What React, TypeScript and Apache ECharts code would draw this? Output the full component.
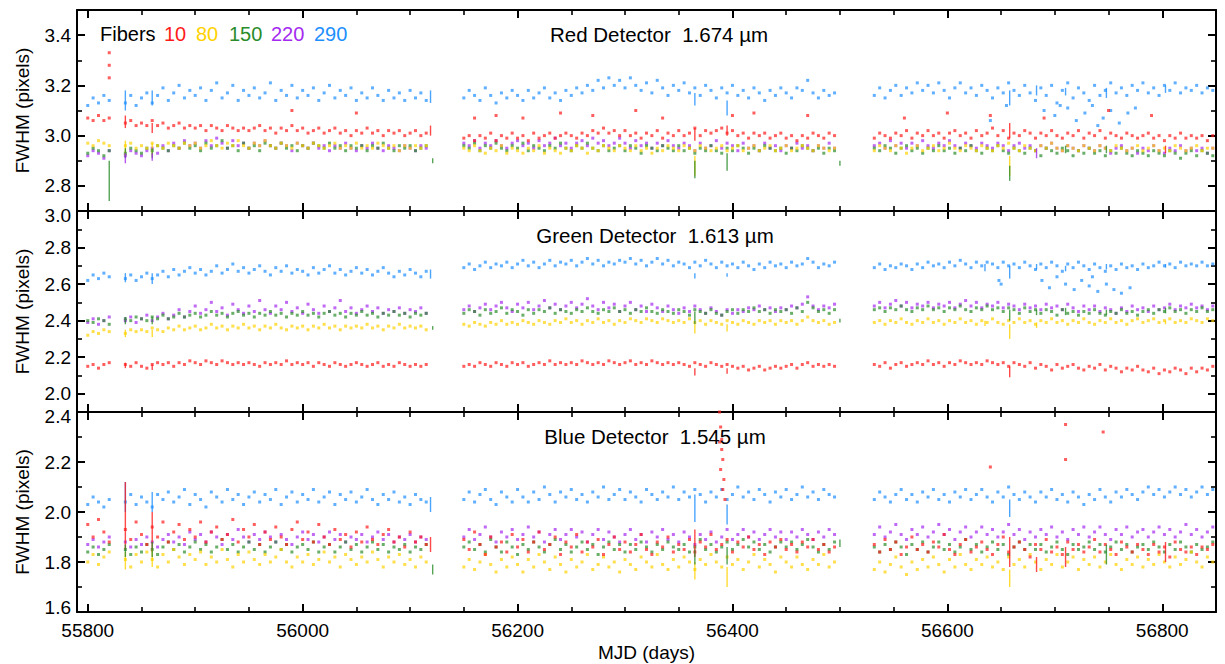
import React, { useEffect, useRef } from "react";
import * as echarts from "echarts";

// ---------- axes ----------
const X_MIN = 55790;
const X_MAX = 56850;
const X_LABELS = [55800, 56000, 56200, 56400, 56600, 56800];
const X_MINOR = [55850, 55900, 55950, 56050, 56100, 56150, 56250, 56300, 56350, 56450, 56500, 56550, 56650, 56700, 56750, 56850];

const Y_MIN = [2.7, 1.9, 1.6];
const Y_MAX = [3.5, 3.0, 2.4];
const Y_MAJOR_TOP = [2.8, 3.0, 3.2, 3.4];
const Y_MINOR_TOP = [2.9, 3.1, 3.3];
const Y_MAJOR_MID = [2.0, 2.2, 2.4, 2.6, 2.8, 3.0];
const Y_MINOR_MID = [2.1, 2.3, 2.5, 2.7, 2.9];
const Y_MAJOR_BOT = [1.6, 1.8, 2.0, 2.2, 2.4];
const Y_MINOR_BOT = [1.7, 1.9, 2.1, 2.3];

const PANEL_TITLES = ["Red Detector  1.674 \u00b5m", "Green Detector  1.613 \u00b5m", "Blue Detector  1.545 \u00b5m"];
const FIBERS = ["10", "80", "150", "220", "290"];
const FIBER_COLORS = ["#ff1a1a", "#ffd200", "#2a8c2a", "#a52af0", "#1e8fff"];

// observing seasons: first MJD of each, one value every 5 days
const SEG_START = [55800, 56150, 56532];
const SEG_STEP = 5;

// ---------- Red detector (top) ----------
const TOP_F290 = [
  [3.12, 3.15, 3.13, 3.16, 3.14, null, null, 3.13, 3.16, 3.12,
   3.15, 3.17, 3.13, 3.16, 3.19, 3.14, 3.17, 3.20, 3.15, 3.18,
   3.16, 3.19, 3.14, 3.18, 3.21, 3.15, 3.17, 3.20, 3.14, 3.18,
   3.16, 3.19, 3.15, 3.17, 3.21, 3.14, 3.18, 3.16, 3.20, 3.15,
   3.18, 3.16, 3.19, 3.14, 3.17, 3.20, 3.15, 3.18, 3.16, 3.19,
   3.14, 3.17, 3.15, 3.19, 3.16, 3.14, 3.18, 3.15, 3.17, 3.14,
   3.18, 3.15, 3.17, 3.14],
  [3.15, 3.18, 3.16, 3.14, 3.19, 3.16, 3.13, 3.17, 3.15, 3.18,
   3.16, 3.14, 3.18, 3.15, 3.17, 3.19, 3.15, 3.17, 3.14, 3.18,
   3.16, 3.19, 3.17, 3.20, 3.18, 3.22, 3.19, 3.23, 3.20, 3.22,
   3.19, 3.23, 3.20, 3.18, 3.21, 3.17, 3.22, 3.19, 3.16, 3.20,
   3.18, 3.21, 3.17, 3.19, 3.16, 3.20, 3.18, 3.15, 3.19, 3.17,
   3.20, 3.16, 3.18, 3.15, 3.19, 3.17, 3.14, 3.18, 3.16, 3.19,
   3.17, 3.15, 3.19, 3.18, 3.22, 3.17, 3.15, 3.18, 3.16, 3.17],
  [3.16, 3.19, 3.15, 3.18, 3.20, 3.16, 3.19, 3.17, 3.21, 3.18,
   3.20, 3.17, 3.21, 3.18, 3.15, 3.19, 3.21, 3.17, 3.19, 3.16,
   3.20, 3.18, 3.15, 3.19, 3.17, 3.21, 3.18, 3.16, 3.20, 3.17,
   3.14, 3.19, 3.16, 3.20, 3.13, 3.18, 3.21, 3.15, 3.19, 3.17,
   3.14, 3.20, 3.16, 3.18, 3.21, 3.17, 3.19, 3.16, 3.20, 3.18,
   3.21, 3.17, 3.19, 3.16, 3.20, 3.18, 3.21, 3.17, 3.19, 3.18,
   3.20, 3.17, 3.19, 3.18],
];
const TOP_F10 = [
  [3.07, 3.06, 3.08, 3.06, 3.07, null, null, 3.05, 3.06, 3.04,
   3.05, 3.04, 3.06, 3.04, 3.05, 3.03, 3.04, 3.05, 3.03, 3.04,
   3.03, 3.04, 3.02, 3.04, 3.03, 3.02, 3.04, 3.03, 3.02, 3.03,
   3.02, 3.03, 3.04, 3.02, 3.03, 3.01, 3.03, 3.02, 3.04, 3.02,
   3.03, 3.01, 3.02, 3.03, 3.01, 3.02, 3.03, 3.01, 3.02, 3.00,
   3.02, 3.01, 3.03, 3.01, 3.02, 3.00, 3.02, 3.01, 3.02, 3.00,
   3.01, 3.02, 3.00, 3.01],
  [2.99, 3.00, 2.98, 3.00, 2.99, 3.01, 2.98, 3.00, 2.99, 3.01,
   2.99, 3.00, 2.98, 3.01, 2.99, 3.00, 3.01, 2.99, 3.00, 3.01,
   3.00, 2.99, 3.01, 3.00, 3.02, 3.01, 3.03, 3.01, 3.02, 3.00,
   3.02, 3.00, 3.01, 2.99, 3.01, 3.00, 3.02, 2.99, 3.01, 3.00,
   3.02, 3.00, 3.01, 3.03, 3.00, 3.02, 3.01, 3.02, 3.03, 3.01,
   3.02, 3.00, 3.01, 2.99, 3.01, 3.00, 3.01, 2.99, 3.00, 3.01,
   2.99, 3.00, 2.98, 3.00, 2.99, 3.01, 3.00, 2.99, 3.01, 3.00],
  [2.99, 3.01, 3.00, 2.99, 3.01, 3.00, 3.02, 2.99, 3.01, 3.00,
   3.02, 3.00, 3.01, 2.99, 3.01, 3.02, 3.00, 3.01, 2.99, 3.02,
   3.00, 3.01, 3.03, 3.00, 3.02, 2.99, 3.01, 3.00, 3.02, 3.01,
   2.99, 3.01, 3.00, 3.02, 3.00, 2.99, 3.01, 3.00, 3.02, 2.99,
   3.01, 3.00, 3.02, 2.99, 3.01, 3.00, 2.99, 3.01, 3.00, 2.99,
   3.00, 3.01, 2.99, 3.00, 2.98, 3.00, 2.99, 3.01, 2.99, 3.00,
   2.99, 3.00, 2.98, 3.00],
];
const TOP_F80 = [
  [2.97, 2.96, 2.98, 2.97, 2.96, null, null, 2.96, 2.97, 2.95,
   2.96, 2.95, 2.97, 2.96, 2.95, 2.97, 2.96, 2.95, 2.97, 2.96,
   2.97, 2.95, 2.96, 2.98, 2.96, 2.95, 2.97, 2.96, 2.98, 2.96,
   2.95, 2.97, 2.96, 2.98, 2.96, 2.95, 2.97, 2.96, 2.95, 2.97,
   2.96, 2.95, 2.97, 2.96, 2.95, 2.96, 2.97, 2.95, 2.96, 2.95,
   2.97, 2.95, 2.96, 2.95, 2.97, 2.96, 2.95, 2.96, 2.94, 2.96,
   2.95, 2.96, 2.95, 2.96],
  [2.95, 2.94, 2.96, 2.94, 2.93, 2.95, 2.94, 2.96, 2.93, 2.95,
   2.94, 2.93, 2.95, 2.94, 2.96, 2.93, 2.95, 2.94, 2.93, 2.95,
   2.94, 2.96, 2.95, 2.93, 2.95, 2.94, 2.96, 2.95, 2.94, 2.96,
   2.95, 2.94, 2.96, 2.94, 2.95, 2.93, 2.95, 2.94, 2.96, 2.95,
   2.94, 2.96, 2.95, 2.94, 2.96, 2.95, 2.94, 2.95, 2.96, 2.94,
   2.95, 2.96, 2.94, 2.95, 2.96, 2.94, 2.95, 2.96, 2.94, 2.95,
   2.96, 2.94, 2.95, 2.96, 2.95, 2.94, 2.96, 2.95, 2.94, 2.95],
  [2.94, 2.96, 2.95, 2.94, 2.96, 2.95, 2.93, 2.95, 2.96, 2.94,
   2.95, 2.96, 2.94, 2.95, 2.97, 2.95, 2.94, 2.96, 2.95, 2.94,
   2.96, 2.95, 2.94, 2.96, 2.95, 2.97, 2.95, 2.94, 2.96, 2.95,
   2.94, 2.96, 2.95, 2.97, 2.95, 2.94, 2.96, 2.95, 2.94, 2.96,
   2.95, 2.94, 2.96, 2.95, 2.94, 2.96, 2.95, 2.94, 2.95, 2.96,
   2.94, 2.95, 2.96, 2.94, 2.95, 2.94, 2.96, 2.95, 2.94, 2.95,
   2.96, 2.94, 2.95, 2.95],
];
const TOP_F150 = [
  [2.93, 2.95, 2.94, 2.92, 2.94, null, null, 2.93, 2.95, 2.94,
   2.93, 2.95, 2.94, 2.96, 2.95, 2.94, 2.96, 2.95, 2.97, 2.95,
   2.96, 2.94, 2.97, 2.95, 2.96, 2.98, 2.95, 2.96, 2.94, 2.97,
   2.95, 2.96, 2.94, 2.97, 2.96, 2.95, 2.97, 2.95, 2.96, 2.94,
   2.96, 2.95, 2.97, 2.96, 2.95, 2.97, 2.95, 2.96, 2.94, 2.96,
   2.95, 2.96, 2.94, 2.96, 2.95, 2.97, 2.95, 2.94, 2.96, 2.95,
   2.96, 2.94, 2.95, 2.96],
  [2.96, 2.95, 2.97, 2.94, 2.96, 2.95, 2.97, 2.95, 2.94, 2.96,
   2.95, 2.97, 2.94, 2.96, 2.95, 2.94, 2.96, 2.95, 2.97, 2.95,
   2.94, 2.96, 2.95, 2.97, 2.95, 2.94, 2.96, 2.94, 2.95, 2.96,
   2.94, 2.96, 2.95, 2.93, 2.96, 2.95, 2.94, 2.96, 2.95, 2.94,
   2.96, 2.94, 2.95, 2.93, 2.95, 2.94, 2.96, 2.94, 2.93, 2.95,
   2.94, 2.96, 2.95, 2.93, 2.95, 2.94, 2.96, 2.95, 2.94, 2.95,
   2.93, 2.95, 2.94, 2.96, 2.95, 2.94, 2.95, 2.93, 2.95, 2.94],
  [2.95, 2.94, 2.96, 2.95, 2.93, 2.95, 2.96, 2.94, 2.95, 2.93,
   2.95, 2.94, 2.96, 2.94, 2.95, 2.93, 2.95, 2.94, 2.96, 2.94,
   2.93, 2.95, 2.94, 2.96, 2.94, 2.93, 2.95, 2.94, 2.93, 2.95,
   2.94, 2.92, 2.95, 2.94, 2.93, 2.95, 2.94, 2.92, 2.94, 2.93,
   2.95, 2.93, 2.94, 2.92, 2.94, 2.93, 2.95, 2.93, 2.92, 2.94,
   2.93, 2.92, 2.94, 2.93, 2.92, 2.94, 2.93, 2.91, 2.93, 2.94,
   2.92, 2.94, 2.93, 2.92],
];
const TOP_F220 = [
  [2.92, 2.94, 2.93, 2.91, 2.94, null, null, 2.92, 2.94, 2.93,
   2.92, 2.94, 2.95, 2.93, 2.96, 2.94, 2.97, 2.95, 2.98, 2.96,
   2.97, 2.95, 2.98, 2.96, 2.99, 2.97, 2.95, 2.98, 2.96, 2.97,
   2.95, 2.97, 2.96, 2.98, 2.96, 2.95, 2.97, 2.96, 2.94, 2.97,
   2.96, 2.95, 2.97, 2.95, 2.96, 2.94, 2.96, 2.95, 2.97, 2.95,
   2.94, 2.96, 2.95, 2.97, 2.95, 2.94, 2.96, 2.95, 2.94, 2.96,
   2.95, 2.94, 2.96, 2.95],
  [2.97, 2.96, 2.98, 2.95, 2.97, 2.96, 2.98, 2.96, 2.95, 2.97,
   2.98, 2.96, 2.97, 2.95, 2.98, 2.96, 2.97, 2.99, 2.96, 2.97,
   2.95, 2.97, 2.98, 2.96, 2.99, 2.97, 2.98, 2.96, 2.97, 2.99,
   2.97, 2.95, 2.98, 2.96, 2.97, 2.95, 2.97, 2.96, 2.98, 2.96,
   2.95, 2.97, 2.96, 2.94, 2.97, 2.95, 2.96, 2.98, 2.95, 2.97,
   2.96, 2.94, 2.97, 2.95, 2.96, 2.94, 2.97, 2.95, 2.96, 2.94,
   2.96, 2.95, 2.97, 2.95, 2.96, 2.94, 2.96, 2.95, 2.97, 2.95],
  [2.96, 2.97, 2.95, 2.98, 2.96, 2.97, 2.95, 2.97, 2.96, 2.98,
   2.96, 2.95, 2.97, 2.96, 2.98, 2.96, 2.95, 2.97, 2.96, 2.95,
   2.97, 2.96, 2.95, 2.97, 2.96, 2.94, 2.96, 2.97, 2.95, 2.96,
   2.94, 2.96, 2.95, 2.97, 2.95, 2.94, 2.96, 2.95, 2.94, 2.96,
   2.95, 2.94, 2.96, 2.95, 2.93, 2.95, 2.96, 2.94, 2.95, 2.93,
   2.95, 2.94, 2.96, 2.94, 2.93, 2.95, 2.94, 2.96, 2.94, 2.95,
   2.94, 2.95, 2.93, 2.95],
];
const TOP_F10_OUT = [[55820, 3.33], [55820, 3.28], [55820, 3.23], [55990, 3.10], [56050, 3.09], [56160, 3.07], [56180, 3.08], [56205, 3.07], [56240, 3.09], [56270, 3.08], [56310, 3.10], [56335, 3.07], [56400, 3.08], [56420, 3.09], [56470, 3.08], [56560, 3.07], [56600, 3.09], [56640, 3.08], [56690, 3.07], [56750, 3.10], [56790, 3.08]];
const TOP_F290_OUT = [[56640, 3.06], [56655, 3.12], [56690, 3.10], [56700, 3.08], [56705, 3.12], [56712, 3.11], [56720, 3.06], [56728, 3.09], [56735, 3.12], [56740, 3.04], [56745, 3.07], [56752, 3.10], [56760, 3.05], [56768, 3.09], [56775, 3.11]];

// ---------- Green detector (middle) ----------
const MID_F290 = [
  [2.62, 2.65, 2.63, 2.66, 2.64, null, null, 2.63, 2.65, 2.62,
   2.64, 2.66, 2.63, 2.65, 2.67, 2.64, 2.68, 2.65, 2.67, 2.69,
   2.66, 2.68, 2.65, 2.67, 2.70, 2.66, 2.68, 2.71, 2.67, 2.69,
   2.66, 2.68, 2.70, 2.67, 2.65, 2.69, 2.67, 2.70, 2.66, 2.68,
   2.67, 2.65, 2.69, 2.66, 2.68, 2.70, 2.66, 2.68, 2.65, 2.67,
   2.69, 2.66, 2.68, 2.65, 2.67, 2.69, 2.66, 2.64, 2.67, 2.65,
   2.68, 2.66, 2.64, 2.67],
  [2.69, 2.71, 2.68, 2.70, 2.72, 2.69, 2.71, 2.70, 2.72, 2.69,
   2.71, 2.73, 2.70, 2.72, 2.69, 2.71, 2.73, 2.70, 2.72, 2.71,
   2.73, 2.70, 2.72, 2.74, 2.71, 2.73, 2.70, 2.72, 2.71, 2.73,
   2.72, 2.74, 2.71, 2.73, 2.70, 2.72, 2.74, 2.71, 2.73, 2.70,
   2.72, 2.71, 2.69, 2.72, 2.70, 2.73, 2.71, 2.69, 2.72, 2.70,
   2.71, 2.69, 2.72, 2.70, 2.68, 2.71, 2.69, 2.72, 2.70, 2.71,
   2.69, 2.72, 2.70, 2.71, 2.74, 2.72, 2.69, 2.71, 2.70, 2.72],
  [2.69, 2.71, 2.68, 2.70, 2.69, 2.71, 2.70, 2.68, 2.71, 2.69,
   2.72, 2.70, 2.71, 2.69, 2.72, 2.70, 2.73, 2.71, 2.69, 2.72,
   2.70, 2.72, 2.71, 2.69, 2.72, 2.70, 2.71, 2.69, 2.72, 2.70,
   2.68, 2.71, 2.69, 2.72, 2.70, 2.67, 2.71, 2.69, 2.72, 2.70,
   2.68, 2.71, 2.69, 2.67, 2.70, 2.68, 2.71, 2.69, 2.70, 2.68,
   2.71, 2.69, 2.70, 2.72, 2.70, 2.71, 2.69, 2.72, 2.70, 2.71,
   2.70, 2.72, 2.70, 2.71],
];
const MID_F220 = [
  [2.39, 2.41, 2.38, 2.40, 2.42, null, null, 2.40, 2.42, 2.39,
   2.41, 2.43, 2.40, 2.42, 2.44, 2.41, 2.43, 2.46, 2.42, 2.45,
   2.48, 2.44, 2.46, 2.50, 2.45, 2.47, 2.43, 2.49, 2.46, 2.44,
   2.48, 2.45, 2.51, 2.46, 2.44, 2.48, 2.46, 2.50, 2.45, 2.47,
   2.44, 2.49, 2.46, 2.44, 2.48, 2.45, 2.47, 2.51, 2.45, 2.47,
   2.44, 2.46, 2.48, 2.45, 2.47, 2.44, 2.46, 2.45, 2.47, 2.44,
   2.46, 2.45, 2.47, 2.44],
  [2.46, 2.48, 2.45, 2.47, 2.49, 2.46, 2.48, 2.50, 2.47, 2.45,
   2.49, 2.47, 2.50, 2.46, 2.48, 2.51, 2.47, 2.49, 2.46, 2.48,
   2.50, 2.47, 2.49, 2.52, 2.48, 2.46, 2.50, 2.47, 2.49, 2.45,
   2.48, 2.50, 2.46, 2.48, 2.45, 2.49, 2.47, 2.45, 2.48, 2.46,
   2.44, 2.47, 2.45, 2.48, 2.46, 2.44, 2.47, 2.45, 2.43, 2.46,
   2.44, 2.46, 2.45, 2.47, 2.46, 2.48, 2.46, 2.47, 2.45, 2.47,
   2.46, 2.48, 2.47, 2.49, 2.53, 2.48, 2.46, 2.48, 2.47, 2.49],
  [2.48, 2.50, 2.47, 2.49, 2.51, 2.48, 2.50, 2.47, 2.49, 2.48,
   2.50, 2.47, 2.49, 2.48, 2.50, 2.47, 2.49, 2.51, 2.48, 2.50,
   2.47, 2.49, 2.48, 2.50, 2.47, 2.49, 2.48, 2.46, 2.49, 2.47,
   2.48, 2.46, 2.49, 2.47, 2.48, 2.46, 2.49, 2.47, 2.45, 2.48,
   2.46, 2.48, 2.45, 2.47, 2.46, 2.44, 2.47, 2.45, 2.48, 2.46,
   2.47, 2.45, 2.48, 2.46, 2.47, 2.49, 2.46, 2.48, 2.47, 2.49,
   2.47, 2.48, 2.46, 2.48],
];
const MID_F150 = [
  [2.40, 2.39, 2.41, 2.40, 2.38, null, null, 2.41, 2.40, 2.42,
   2.41, 2.40, 2.42, 2.41, 2.43, 2.41, 2.42, 2.44, 2.42, 2.43,
   2.44, 2.42, 2.43, 2.45, 2.43, 2.44, 2.42, 2.44, 2.45, 2.43,
   2.44, 2.42, 2.44, 2.43, 2.45, 2.43, 2.44, 2.42, 2.44, 2.43,
   2.45, 2.43, 2.44, 2.42, 2.44, 2.45, 2.43, 2.44, 2.42, 2.44,
   2.43, 2.45, 2.43, 2.44, 2.42, 2.44, 2.43, 2.45, 2.43, 2.44,
   2.42, 2.44, 2.43, 2.44],
  [2.44, 2.46, 2.45, 2.43, 2.46, 2.44, 2.45, 2.47, 2.44, 2.46,
   2.45, 2.43, 2.46, 2.44, 2.46, 2.45, 2.47, 2.44, 2.46, 2.45,
   2.44, 2.46, 2.45, 2.47, 2.45, 2.44, 2.46, 2.45, 2.47, 2.45,
   2.46, 2.44, 2.46, 2.45, 2.47, 2.45, 2.44, 2.46, 2.45, 2.44,
   2.46, 2.45, 2.43, 2.46, 2.45, 2.44, 2.46, 2.44, 2.43, 2.45,
   2.46, 2.44, 2.46, 2.45, 2.47, 2.45, 2.46, 2.44, 2.46, 2.45,
   2.46, 2.44, 2.47, 2.45, 2.50, 2.47, 2.45, 2.46, 2.44, 2.46],
  [2.46, 2.47, 2.45, 2.47, 2.46, 2.48, 2.46, 2.45, 2.47, 2.46,
   2.48, 2.46, 2.47, 2.45, 2.47, 2.46, 2.48, 2.46, 2.45, 2.47,
   2.46, 2.48, 2.46, 2.47, 2.45, 2.47, 2.46, 2.44, 2.47, 2.45,
   2.46, 2.44, 2.46, 2.45, 2.43, 2.46, 2.44, 2.45, 2.43, 2.45,
   2.44, 2.46, 2.44, 2.43, 2.45, 2.44, 2.46, 2.44, 2.45, 2.43,
   2.45, 2.46, 2.44, 2.46, 2.45, 2.47, 2.45, 2.46, 2.44, 2.46,
   2.45, 2.47, 2.45, 2.46],
];
const MID_F80 = [
  [2.32, 2.34, 2.33, 2.35, 2.34, null, null, 2.33, 2.35, 2.34,
   2.35, 2.34, 2.36, 2.35, 2.34, 2.36, 2.35, 2.37, 2.35, 2.36,
   2.37, 2.35, 2.36, 2.38, 2.36, 2.37, 2.35, 2.37, 2.36, 2.38,
   2.36, 2.37, 2.35, 2.37, 2.36, 2.38, 2.36, 2.35, 2.37, 2.36,
   2.37, 2.35, 2.37, 2.36, 2.38, 2.36, 2.37, 2.35, 2.37, 2.36,
   2.37, 2.36, 2.38, 2.36, 2.37, 2.35, 2.37, 2.36, 2.38, 2.36,
   2.37, 2.36, 2.37, 2.35],
  [2.38, 2.37, 2.39, 2.38, 2.37, 2.39, 2.38, 2.40, 2.38, 2.39,
   2.38, 2.40, 2.39, 2.38, 2.40, 2.39, 2.38, 2.40, 2.39, 2.41,
   2.39, 2.40, 2.38, 2.40, 2.39, 2.41, 2.39, 2.40, 2.38, 2.40,
   2.39, 2.41, 2.40, 2.39, 2.41, 2.40, 2.39, 2.41, 2.40, 2.39,
   2.40, 2.39, 2.41, 2.39, 2.40, 2.38, 2.40, 2.39, 2.38, 2.40,
   2.39, 2.38, 2.40, 2.39, 2.38, 2.40, 2.39, 2.40, 2.38, 2.40,
   2.39, 2.40, 2.38, 2.40, 2.42, 2.40, 2.39, 2.40, 2.38, 2.39],
  [2.39, 2.40, 2.38, 2.40, 2.39, 2.41, 2.39, 2.38, 2.40, 2.39,
   2.41, 2.39, 2.40, 2.38, 2.40, 2.39, 2.41, 2.39, 2.40, 2.38,
   2.40, 2.39, 2.41, 2.39, 2.38, 2.40, 2.39, 2.41, 2.39, 2.40,
   2.38, 2.40, 2.39, 2.41, 2.39, 2.40, 2.38, 2.40, 2.39, 2.41,
   2.39, 2.38, 2.40, 2.39, 2.41, 2.39, 2.40, 2.38, 2.40, 2.41,
   2.39, 2.40, 2.41, 2.39, 2.40, 2.41, 2.39, 2.40, 2.39, 2.41,
   2.40, 2.39, 2.41, 2.40],
];
const MID_F10 = [
  [2.15, 2.16, 2.14, 2.16, 2.17, null, null, 2.16, 2.15, 2.17,
   2.15, 2.14, 2.16, 2.17, 2.16, 2.17, 2.15, 2.17, 2.16, 2.18,
   2.17, 2.16, 2.18, 2.17, 2.16, 2.18, 2.17, 2.16, 2.17, 2.16,
   2.17, 2.16, 2.15, 2.17, 2.16, 2.17, 2.16, 2.18, 2.16, 2.17,
   2.16, 2.17, 2.15, 2.17, 2.16, 2.15, 2.17, 2.16, 2.15, 2.16,
   2.17, 2.16, 2.15, 2.16, 2.17, 2.15, 2.16, 2.15, 2.17, 2.16,
   2.15, 2.16, 2.15, 2.16],
  [2.15, 2.16, 2.15, 2.17, 2.16, 2.15, 2.17, 2.16, 2.15, 2.17,
   2.16, 2.17, 2.15, 2.16, 2.17, 2.16, 2.18, 2.16, 2.17, 2.16,
   2.17, 2.16, 2.18, 2.17, 2.16, 2.17, 2.16, 2.18, 2.17, 2.16,
   2.17, 2.18, 2.16, 2.17, 2.16, 2.18, 2.17, 2.16, 2.17, 2.16,
   2.17, 2.16, 2.15, 2.17, 2.16, 2.15, 2.17, 2.16, 2.15, 2.16,
   2.15, 2.14, 2.15, 2.13, 2.14, 2.15, 2.13, 2.14, 2.15, 2.14,
   2.15, 2.16, 2.14, 2.16, 2.17, 2.15, 2.16, 2.15, 2.16, 2.15],
  [2.16, 2.15, 2.17, 2.14, 2.16, 2.17, 2.15, 2.16, 2.17, 2.16,
   2.18, 2.16, 2.17, 2.15, 2.17, 2.16, 2.18, 2.17, 2.16, 2.17,
   2.16, 2.18, 2.17, 2.16, 2.17, 2.15, 2.17, 2.16, 2.15, 2.17,
   2.14, 2.16, 2.15, 2.13, 2.16, 2.14, 2.15, 2.16, 2.14, 2.13,
   2.15, 2.14, 2.16, 2.13, 2.15, 2.14, 2.12, 2.14, 2.13, 2.15,
   2.13, 2.12, 2.14, 2.11, 2.13, 2.12, 2.14, 2.13, 2.11, 2.14,
   2.12, 2.14, 2.13, 2.15],
];
const MID_F290_OUT = [[56648, 2.62], [56650, 2.60], [56688, 2.62], [56695, 2.58], [56702, 2.64], [56710, 2.60], [56718, 2.57], [56725, 2.62], [56732, 2.59], [56735, 2.64], [56740, 2.56], [56748, 2.60], [56755, 2.57], [56762, 2.55], [56770, 2.58]];

// ---------- Blue detector (bottom) ----------
const BOT_F290 = [
  [2.03, 2.06, 2.04, 2.02, 2.05, null, null, 2.04, 2.07, 2.03,
   2.06, 2.04, 2.02, 2.07, 2.05, 2.08, 2.04, 2.06, 2.09, 2.03,
   2.07, 2.05, 2.02, 2.08, 2.06, 2.04, 2.09, 2.05, 2.07, 2.03,
   2.06, 2.08, 2.04, 2.07, 2.05, 2.09, 2.03, 2.06, 2.08, 2.04,
   2.07, 2.05, 2.09, 2.04, 2.06, 2.08, 2.03, 2.07, 2.05, 2.08,
   2.04, 2.06, 2.09, 2.05, 2.03, 2.07, 2.05, 2.08, 2.04, 2.06,
   2.03, 2.07, 2.05, 2.04],
  [2.05, 2.08, 2.04, 2.07, 2.09, 2.05, 2.03, 2.08, 2.06, 2.04,
   2.09, 2.06, 2.04, 2.08, 2.05, 2.10, 2.07, 2.04, 2.08, 2.06,
   2.09, 2.05, 2.07, 2.04, 2.08, 2.06, 2.10, 2.05, 2.07, 2.09,
   2.05, 2.08, 2.06, 2.04, 2.09, 2.07, 2.05, 2.08, 2.06, 2.10,
   2.05, 2.08, 2.06, 2.09, 2.07, 2.04, 2.08, 2.06, 2.09, 2.05,
   2.07, 2.10, 2.06, 2.08, 2.05, 2.09, 2.07, 2.04, 2.08, 2.06,
   2.09, 2.05, 2.07, 2.10, 2.06, 2.08, 2.05, 2.09, 2.07, 2.06],
  [2.05, 2.08, 2.06, 2.04, 2.07, 2.09, 2.05, 2.07, 2.04, 2.08,
   2.06, 2.09, 2.05, 2.07, 2.04, 2.08, 2.06, 2.09, 2.05, 2.07,
   2.09, 2.06, 2.04, 2.08, 2.06, 2.10, 2.07, 2.05, 2.08, 2.06,
   2.04, 2.08, 2.06, 2.09, 2.05, 2.07, 2.04, 2.08, 2.06, 2.03,
   2.07, 2.05, 2.09, 2.06, 2.04, 2.08, 2.06, 2.09, 2.07, 2.05,
   2.08, 2.10, 2.07, 2.09, 2.06, 2.08, 2.10, 2.07, 2.09, 2.06,
   2.08, 2.10, 2.07, 2.09],
];
const BOT_F10 = [
  [1.95, 1.90, 1.97, 1.92, 1.88, null, null, 1.93, 1.89, 1.96,
   1.91, 1.87, 1.94, 1.90, 1.96, 1.88, 1.92, 1.95, 1.89, 1.93,
   1.90, 1.96, 1.88, 1.92, 1.94, 1.89, 1.91, 1.97, 1.88, 1.93,
   1.90, 1.95, 1.87, 1.92, 1.89, 1.94, 1.90, 1.87, 1.93, 1.96,
   1.89, 1.92, 1.88, 1.95, 1.90, 1.87, 1.93, 1.89, 1.91, 1.86,
   1.92, 1.88, 1.94, 1.89, 1.87, 1.91, 1.93, 1.88, 1.90, 1.86,
   1.92, 1.88, 1.90, 1.87],
  [1.89, 1.85, 1.92, 1.87, 1.83, 1.90, 1.86, 1.88, 1.84, 1.91,
   1.86, 1.89, 1.84, 1.88, 1.92, 1.85, 1.87, 1.90, 1.83, 1.88,
   1.86, 1.91, 1.84, 1.88, 1.86, 1.89, 1.83, 1.87, 1.90, 1.85,
   1.88, 1.84, 1.87, 1.91, 1.85, 1.83, 1.88, 1.86, 1.90, 1.84,
   1.87, 1.85, 1.89, 1.84, 1.88, 1.86, 1.91, 1.85, 1.87, 1.89,
   1.84, 1.88, 1.86, 1.90, 1.85, 1.87, 1.83, 1.88, 1.86, 1.89,
   1.85, 1.87, 1.84, 1.88, 1.86, 1.89, 1.85, 1.87, 1.84, 1.86],
  [1.87, 1.84, 1.89, 1.85, 1.88, 1.83, 1.86, 1.90, 1.85, 1.87,
   1.84, 1.88, 1.86, 1.91, 1.85, 1.83, 1.87, 1.89, 1.84, 1.86,
   1.88, 1.85, 1.83, 1.87, 1.90, 1.84, 1.86, 1.88, 1.85, 1.82,
   1.87, 1.85, 1.89, 1.84, 1.86, 1.83, 1.88, 1.85, 1.87, 1.84,
   1.86, 1.89, 1.84, 1.87, 1.85, 1.83, 1.88, 1.86, 1.84, 1.87,
   1.85, 1.83, 1.87, 1.84, 1.86, 1.82, 1.88, 1.85, 1.84, 1.86,
   1.83, 1.86, 1.85, 1.87],
];
const BOT_F220 = [
  [1.87, 1.89, 1.86, 1.88, 1.90, null, null, 1.88, 1.86, 1.89,
   1.87, 1.90, 1.88, 1.86, 1.89, 1.91, 1.88, 1.90, 1.87, 1.92,
   1.89, 1.91, 1.88, 1.92, 1.90, 1.87, 1.91, 1.89, 1.93, 1.90,
   1.88, 1.91, 1.89, 1.92, 1.90, 1.88, 1.91, 1.89, 1.87, 1.90,
   1.92, 1.89, 1.91, 1.88, 1.90, 1.92, 1.89, 1.91, 1.88, 1.90,
   1.89, 1.91, 1.88, 1.90, 1.92, 1.89, 1.91, 1.88, 1.90, 1.89,
   1.91, 1.88, 1.90, 1.89],
  [1.90, 1.93, 1.89, 1.91, 1.94, 1.90, 1.88, 1.92, 1.90, 1.93,
   1.89, 1.91, 1.94, 1.90, 1.92, 1.88, 1.91, 1.93, 1.89, 1.91,
   1.93, 1.90, 1.92, 1.88, 1.91, 1.93, 1.89, 1.92, 1.90, 1.88,
   1.91, 1.93, 1.89, 1.91, 1.88, 1.92, 1.90, 1.93, 1.89, 1.91,
   1.88, 1.92, 1.90, 1.87, 1.91, 1.89, 1.92, 1.88, 1.90, 1.93,
   1.89, 1.91, 1.93, 1.90, 1.92, 1.89, 1.91, 1.93, 1.90, 1.92,
   1.89, 1.92, 1.90, 1.93, 1.91, 1.89, 1.92, 1.90, 1.93, 1.91],
  [1.91, 1.94, 1.90, 1.92, 1.95, 1.91, 1.89, 1.93, 1.91, 1.94,
   1.90, 1.92, 1.95, 1.91, 1.93, 1.89, 1.92, 1.94, 1.90, 1.92,
   1.94, 1.91, 1.93, 1.90, 1.92, 1.95, 1.91, 1.93, 1.89, 1.92,
   1.90, 1.93, 1.91, 1.94, 1.90, 1.92, 1.89, 1.93, 1.91, 1.94,
   1.90, 1.92, 1.94, 1.91, 1.89, 1.93, 1.91, 1.94, 1.90, 1.92,
   1.93, 1.90, 1.92, 1.94, 1.91, 1.93, 1.90, 1.92, 1.95, 1.91,
   1.93, 1.90, 1.92, 1.94],
];
const BOT_F150 = [
  [1.84, 1.86, 1.83, 1.85, 1.87, null, null, 1.85, 1.83, 1.86,
   1.84, 1.87, 1.85, 1.83, 1.86, 1.88, 1.85, 1.87, 1.84, 1.86,
   1.88, 1.85, 1.87, 1.84, 1.86, 1.89, 1.85, 1.87, 1.84, 1.86,
   1.88, 1.85, 1.87, 1.84, 1.86, 1.88, 1.85, 1.87, 1.84, 1.86,
   1.87, 1.85, 1.88, 1.84, 1.86, 1.87, 1.84, 1.86, 1.88, 1.85,
   1.87, 1.84, 1.86, 1.88, 1.85, 1.87, 1.84, 1.86, 1.85, 1.87,
   1.84, 1.86, 1.85, 1.87],
  [1.86, 1.88, 1.85, 1.87, 1.84, 1.89, 1.86, 1.84, 1.88, 1.86,
   1.83, 1.87, 1.85, 1.88, 1.86, 1.84, 1.87, 1.89, 1.85, 1.87,
   1.84, 1.86, 1.88, 1.85, 1.87, 1.83, 1.86, 1.88, 1.85, 1.87,
   1.84, 1.87, 1.85, 1.88, 1.86, 1.84, 1.87, 1.85, 1.88, 1.86,
   1.85, 1.87, 1.84, 1.86, 1.89, 1.85, 1.87, 1.84, 1.86, 1.88,
   1.85, 1.87, 1.89, 1.86, 1.88, 1.85, 1.87, 1.84, 1.86, 1.88,
   1.86, 1.88, 1.85, 1.87, 1.89, 1.86, 1.84, 1.87, 1.85, 1.88],
  [1.86, 1.84, 1.87, 1.85, 1.88, 1.86, 1.83, 1.87, 1.85, 1.88,
   1.84, 1.86, 1.88, 1.85, 1.87, 1.84, 1.86, 1.89, 1.85, 1.87,
   1.84, 1.86, 1.88, 1.85, 1.87, 1.83, 1.86, 1.88, 1.85, 1.87,
   1.85, 1.87, 1.84, 1.86, 1.88, 1.85, 1.83, 1.87, 1.85, 1.86,
   1.88, 1.85, 1.87, 1.84, 1.86, 1.88, 1.85, 1.87, 1.84, 1.86,
   1.87, 1.85, 1.88, 1.86, 1.84, 1.87, 1.85, 1.88, 1.86, 1.84,
   1.87, 1.85, 1.86, 1.88],
];
const BOT_F80 = [
  [1.80, 1.83, 1.79, 1.82, 1.84, null, null, 1.81, 1.78, 1.83,
   1.80, 1.84, 1.81, 1.78, 1.83, 1.80, 1.85, 1.82, 1.79, 1.83,
   1.81, 1.84, 1.79, 1.82, 1.80, 1.85, 1.81, 1.78, 1.83, 1.80,
   1.84, 1.81, 1.79, 1.83, 1.80, 1.82, 1.85, 1.80, 1.78, 1.82,
   1.80, 1.83, 1.79, 1.81, 1.84, 1.80, 1.82, 1.78, 1.83, 1.81,
   1.79, 1.82, 1.80, 1.84, 1.81, 1.78, 1.82, 1.80, 1.83, 1.79,
   1.81, 1.78, 1.82, 1.80],
  [1.78, 1.81, 1.77, 1.80, 1.83, 1.79, 1.76, 1.81, 1.78, 1.82,
   1.79, 1.76, 1.81, 1.78, 1.83, 1.80, 1.77, 1.82, 1.79, 1.76,
   1.81, 1.78, 1.80, 1.83, 1.77, 1.79, 1.82, 1.78, 1.80, 1.76,
   1.81, 1.79, 1.77, 1.82, 1.80, 1.78, 1.83, 1.79, 1.77, 1.81,
   1.78, 1.82, 1.80, 1.77, 1.81, 1.79, 1.83, 1.80, 1.78, 1.82,
   1.79, 1.81, 1.77, 1.80, 1.83, 1.78, 1.81, 1.79, 1.76, 1.82,
   1.80, 1.78, 1.82, 1.79, 1.77, 1.81, 1.79, 1.83, 1.78, 1.80],
  [1.77, 1.80, 1.76, 1.79, 1.82, 1.78, 1.75, 1.80, 1.77, 1.81,
   1.78, 1.82, 1.79, 1.76, 1.81, 1.78, 1.83, 1.79, 1.77, 1.81,
   1.79, 1.82, 1.78, 1.80, 1.77, 1.82, 1.79, 1.81, 1.78, 1.83,
   1.80, 1.77, 1.81, 1.79, 1.83, 1.78, 1.80, 1.82, 1.77, 1.81,
   1.79, 1.82, 1.78, 1.80, 1.83, 1.79, 1.77, 1.81, 1.79, 1.82,
   1.78, 1.81, 1.79, 1.83, 1.80, 1.78, 1.82, 1.79, 1.81, 1.84,
   1.80, 1.78, 1.82, 1.80],
];
const BOT_F10_OUT = [[56388, 2.40], [56389, 2.34], [56388, 2.28], [56390, 2.29], [56390, 2.25], [56391, 2.21], [56389, 2.17], [56392, 2.13], [56391, 2.09], [56393, 2.05], [56640, 2.18], [56710, 2.35], [56710, 2.21], [56745, 2.32]];

// vertical streaks of many exposures on one night: [MJD, low, high, fiber index]
const STREAKS_TOP = [
  [55835, 3.10, 3.18, 4], [55835, 3.03, 3.08, 0], [55835, 2.92, 2.98, 1], [55835, 2.91, 2.95, 2], [55835, 2.89, 2.93, 3],
  [55860, 3.12, 3.18, 4], [55860, 3.01, 3.05, 0], [55860, 2.92, 2.97, 1], [55860, 2.91, 2.95, 2], [55860, 2.90, 2.93, 3],
  [55820, 2.74, 2.90, 2], [56119, 3.13, 3.18, 4], [56119, 3.00, 3.04, 0], [56121, 2.89, 2.91, 2],
  [56365, 3.12, 3.17, 4], [56365, 2.98, 3.03, 0], [56365, 2.84, 2.92, 1], [56365, 2.83, 2.90, 2],
  [56395, 3.08, 3.14, 4], [56395, 3.00, 3.04, 0], [56395, 2.86, 2.93, 2], [56500, 2.88, 2.90, 2],
  [56658, 3.12, 3.18, 4], [56658, 2.99, 3.05, 0], [56658, 2.84, 2.92, 1], [56658, 2.82, 2.88, 2],
  [56683, 3.16, 3.20, 4], [56683, 2.91, 2.95, 3], [56710, 3.16, 3.19, 4], [56710, 2.93, 2.96, 2],
  [56748, 3.15, 3.19, 4], [56748, 2.93, 2.96, 2], [56803, 3.17, 3.20, 4], [56803, 2.93, 2.96, 0],
];
const STREAKS_MID = [
  [55835, 2.61, 2.66, 4], [55835, 2.39, 2.42, 3], [55835, 2.38, 2.42, 2], [55835, 2.31, 2.35, 1], [55835, 2.14, 2.17, 0],
  [55860, 2.60, 2.66, 4], [55860, 2.38, 2.42, 2], [55860, 2.31, 2.35, 1], [55860, 2.13, 2.16, 0],
  [56119, 2.63, 2.68, 4], [56121, 2.35, 2.37, 2],
  [56365, 2.63, 2.66, 4], [56365, 2.38, 2.45, 2], [56365, 2.33, 2.38, 1], [56365, 2.10, 2.14, 0],
  [56395, 2.64, 2.66, 4], [56395, 2.34, 2.38, 1], [56395, 2.11, 2.14, 0], [56500, 2.39, 2.41, 2],
  [56635, 2.67, 2.71, 4], [56635, 2.37, 2.40, 1], [56658, 2.63, 2.70, 4], [56658, 2.40, 2.46, 2], [56658, 2.30, 2.38, 1], [56658, 2.09, 2.15, 0],
  [56683, 2.68, 2.71, 4], [56683, 2.43, 2.46, 2], [56683, 2.36, 2.39, 1], [56710, 2.67, 2.70, 4], [56710, 2.43, 2.47, 2],
  [56748, 2.68, 2.71, 4], [56748, 2.43, 2.46, 2], [56803, 2.69, 2.71, 4], [56803, 2.44, 2.47, 2], [56803, 2.38, 2.40, 1],
];
const STREAKS_BOT = [
  [55835, 2.00, 2.12, 4], [55835, 1.85, 2.12, 0], [55835, 1.77, 1.84, 1], [55835, 1.82, 1.87, 2],
  [55860, 2.00, 2.08, 4], [55860, 1.84, 2.00, 0], [55860, 1.78, 1.85, 1], [55860, 1.82, 1.88, 2],
  [56119, 2.00, 2.06, 4], [56119, 1.84, 1.90, 0], [56121, 1.75, 1.79, 2],
  [56365, 1.96, 2.07, 4], [56365, 1.82, 1.93, 0], [56365, 1.73, 1.80, 1], [56365, 1.79, 1.85, 2],
  [56395, 1.95, 2.03, 4], [56395, 1.70, 1.78, 1], [56395, 1.79, 1.86, 2], [56500, 1.86, 1.89, 2],
  [56658, 1.98, 2.05, 4], [56658, 1.78, 1.90, 0], [56658, 1.70, 1.77, 1],
  [56683, 1.76, 1.82, 0], [56710, 1.78, 1.86, 0], [56748, 1.79, 1.87, 2], [56803, 1.80, 1.88, 0],
];

// per panel: series in drawing order [fiber index, values, extra points]
const PANELS = [
  { series: [[4, TOP_F290, TOP_F290_OUT], [3, TOP_F220, []], [2, TOP_F150, []], [1, TOP_F80, []], [0, TOP_F10, TOP_F10_OUT]], streaks: STREAKS_TOP, major: Y_MAJOR_TOP, minor: Y_MINOR_TOP },
  { series: [[4, MID_F290, MID_F290_OUT], [3, MID_F220, []], [2, MID_F150, []], [1, MID_F80, []], [0, MID_F10, []]], streaks: STREAKS_MID, major: Y_MAJOR_MID, minor: Y_MINOR_MID },
  { series: [[4, BOT_F290, []], [3, BOT_F220, []], [2, BOT_F150, []], [1, BOT_F80, []], [0, BOT_F10, BOT_F10_OUT]], streaks: STREAKS_BOT, major: Y_MAJOR_BOT, minor: Y_MINOR_BOT },
];

const FONT = '"Liberation Sans", Arial, Helvetica, sans-serif';
const GRID_TOPS = [10, 211, 412];
const GRID_HEIGHTS = [201, 201, 200];

function toPoints(segs: (number | null)[][], extra: number[][]) {
  const pts: number[][] = [];
  segs.forEach((vals, s) => {
    vals.forEach((v, i) => {
      if (v !== null) pts.push([SEG_START[s] + i * SEG_STEP, v]);
    });
  });
  extra.forEach((p) => pts.push(p));
  return pts;
}

function buildOption() {
  const grid: any[] = [];
  const xAxis: any[] = [];
  const yAxis: any[] = [];
  const series: any[] = [];
  const black = { color: "#000", width: 2 };
  const minorLine = { color: "#000", width: 1.6 };

  PANELS.forEach((panel, p) => {
    grid.push({ left: 77, right: 9, top: GRID_TOPS[p], height: GRID_HEIGHTS[p], outerBoundsMode: "none" });
    const isBottom = p === 2;
    const xBase = { type: "value", gridIndex: p, min: X_MIN, max: X_MAX, splitLine: { show: false }, axisPointer: { show: false } };
    xAxis.push({
      ...xBase, position: "bottom",
      axisLine: { show: true, onZero: false, lineStyle: black },
      axisTick: { show: true, inside: true, length: 8, customValues: X_LABELS, lineStyle: black },
      axisLabel: {
        show: isBottom, customValues: X_LABELS, margin: 9, fontSize: 19, fontFamily: FONT, color: "#000",
        formatter: (v: number) => String(Math.round(v)),
      },
      name: isBottom ? "MJD (days)" : "", nameLocation: "middle", nameGap: 31,
      nameTextStyle: { fontSize: 19, fontFamily: FONT, color: "#000" },
    });
    xAxis.push({
      ...xBase, position: "bottom",
      axisLine: { show: false, onZero: false },
      axisTick: { show: true, inside: true, length: 5, customValues: X_MINOR, lineStyle: minorLine },
      axisLabel: { show: false },
    });
    xAxis.push({
      ...xBase, position: "top",
      axisLine: { show: true, onZero: false, lineStyle: black },
      axisTick: { show: true, inside: true, length: 8, customValues: X_LABELS, lineStyle: black },
      axisLabel: { show: false },
    });
    xAxis.push({
      ...xBase, position: "top",
      axisLine: { show: false, onZero: false },
      axisTick: { show: true, inside: true, length: 5, customValues: X_MINOR, lineStyle: minorLine },
      axisLabel: { show: false },
    });

    const yMin = Y_MIN[p];
    const yMax = Y_MAX[p];
    const yBase = { type: "value", gridIndex: p, min: yMin, max: yMax, splitLine: { show: false }, axisPointer: { show: false } };
    yAxis.push({
      ...yBase, position: "left",
      axisLine: { show: true, onZero: false, lineStyle: black },
      axisTick: { show: true, inside: true, length: 8, customValues: panel.major, lineStyle: black },
      axisLabel: {
        show: true, customValues: panel.major, margin: 6, fontSize: 19, fontFamily: FONT, color: "#000",
        formatter: (v: number) => {
          const s = v.toFixed(1);
          if (Math.abs(v - yMax) < 1e-6) return "{t|" + s + "}";
          if (Math.abs(v - yMin) < 1e-6) return "{b|" + s + "}";
          return s;
        },
        rich: {
          t: { fontSize: 19, fontFamily: FONT, color: "#000", padding: [8, 0, 0, 0] },
          b: { fontSize: 19, fontFamily: FONT, color: "#000", padding: [0, 0, 10, 0] },
        },
      },
      name: "FWHM (pixels)", nameLocation: "middle", nameGap: 45, nameRotate: 90,
      nameTextStyle: { fontSize: 19, fontFamily: FONT, color: "#000" },
    });
    yAxis.push({
      ...yBase, position: "left",
      axisLine: { show: false, onZero: false },
      axisTick: { show: true, inside: true, length: 5, customValues: panel.minor, lineStyle: minorLine },
      axisLabel: { show: false },
    });
    yAxis.push({
      ...yBase, position: "right",
      axisLine: { show: true, onZero: false, lineStyle: black },
      axisTick: { show: true, inside: true, length: 8, customValues: panel.major, lineStyle: black },
      axisLabel: { show: false },
    });
    yAxis.push({
      ...yBase, position: "right",
      axisLine: { show: false, onZero: false },
      axisTick: { show: true, inside: true, length: 5, customValues: panel.minor, lineStyle: minorLine },
      axisLabel: { show: false },
    });

    panel.series.forEach(([fi, vals, extra]: any) => {
      series.push({
        type: "scatter",
        name: FIBERS[fi],
        xAxisIndex: p * 4,
        yAxisIndex: p * 4,
        data: toPoints(vals, extra),
        symbol: "rect",
        symbolSize: 3,
        itemStyle: { color: FIBER_COLORS[fi], opacity: 0.7 },
        silent: true,
        z: 2,
      });
    });

    series.push({
      type: "custom",
      xAxisIndex: p * 4,
      yAxisIndex: p * 4,
      data: panel.streaks,
      encode: { x: 0, y: [1, 2] },
      silent: true,
      z: 3,
      renderItem: (_params: any, api: any) => {
        const a = api.coord([api.value(0), api.value(1)]);
        const b = api.coord([api.value(0), api.value(2)]);
        return {
          type: "line",
          shape: { x1: a[0], y1: a[1], x2: b[0], y2: b[1] },
          style: { stroke: FIBER_COLORS[api.value(3)], lineWidth: 1.4, opacity: 0.8 },
        };
      },
    });
  });

  const graphic: any[] = [];
  const titleX = [659, 655, 655];
  const titleY = [34, 235, 436];
  PANEL_TITLES.forEach((t, i) => {
    graphic.push({
      type: "text", x: titleX[i], y: titleY[i], z: 10,
      style: { text: t, fontSize: 20.5, fontFamily: FONT, fill: "#000", textAlign: "center", textVerticalAlign: "middle" },
    });
  });
  const legendX = [164, 196, 229, 271, 314];
  graphic.push({
    type: "text", x: 100, y: 34, z: 10,
    style: { text: "Fibers", fontSize: 20, fontFamily: FONT, fill: "#000", textAlign: "left", textVerticalAlign: "middle" },
  });
  FIBERS.forEach((f, i) => {
    graphic.push({
      type: "text", x: legendX[i], y: 34, z: 10,
      style: { text: f, fontSize: 20, fontFamily: FONT, fill: FIBER_COLORS[i], textAlign: "left", textVerticalAlign: "middle" },
    });
  });

  return {
    animation: false,
    backgroundColor: "#ffffff",
    grid,
    xAxis,
    yAxis,
    series,
    graphic,
  };
}

export default function App() {
  const ref = useRef<HTMLDivElement>(null);
  useEffect(() => {
    if (!ref.current) return;
    const chart = echarts.init(ref.current, null, { renderer: "svg" });
    chart.setOption(buildOption() as any);
    return () => chart.dispose();
  }, []);
  return (
    <div
      ref={ref}
      style={{ position: "fixed", left: 0, top: 0, width: 1225, height: 664, background: "#fff" }}
    />
  );
}
